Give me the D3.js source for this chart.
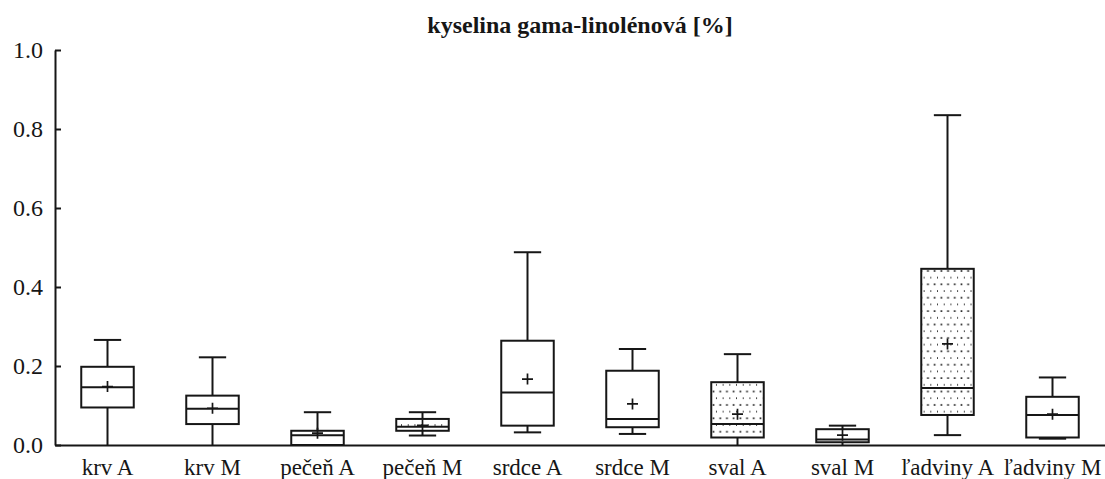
<!DOCTYPE html>
<html>
<head>
<meta charset="utf-8">
<script src="https://cdn.jsdelivr.net/npm/d3@7"></script>
<style>
	body { margin: 0; background: #fff; }
	svg { display: block; font-family: "Liberation Serif", "Times New Roman", serif; }
</style>
</head>
<body>
<div id="chart"></div>
<script>
// Datos: cuartiles, bigotes y media por tejido
var categorias = ["krv A", "krv M", "pečeň A", "pečeň M", "srdce A", "srdce M", "sval A", "sval M", "ľadviny A", "ľadviny M"];
var minimos  = [0.000, 0.000, 0.000, 0.024, 0.032, 0.028, 0.000, 0.000, 0.025, 0.016];
var q1       = [0.095, 0.053, 0.000, 0.036, 0.049, 0.045, 0.019, 0.007, 0.076, 0.019];
var medianas = [0.146, 0.092, 0.025, 0.046, 0.133, 0.066, 0.053, 0.014, 0.144, 0.076];
var q3       = [0.198, 0.125, 0.036, 0.066, 0.264, 0.188, 0.159, 0.040, 0.446, 0.122];
var maximos  = [0.266, 0.222, 0.083, 0.083, 0.488, 0.243, 0.230, 0.049, 0.835, 0.171];
var medias   = [0.148, 0.093, 0.030, 0.050, 0.167, 0.104, 0.078, 0.025, 0.256, 0.078];
var punteados = ["pečeň M", "sval A", "ľadviny A"];
var yTicks = [0, 0.2, 0.4, 0.6, 0.8, 1.0];
var titulo = "kyselina gama-linolénová [%]";

var W = 1105, H = 479;
var mLeft = 55, mRight = 1105, mTop = 50, mBottom = 445;
var ink = "#161616";

var svg = d3.select("#chart").append("svg")
	.attr("width", W)
	.attr("height", H);

// patrón de puntos para las cajas punteadas
var defs = svg.append("defs");
var pat = defs.append("pattern")
	.attr("id", "puntos")
	.attr("patternUnits", "userSpaceOnUse")
	.attr("width", 6.7)
	.attr("height", 13.4);
pat.append("rect").attr("x", 2.5).attr("y", 2.1).attr("width", 1.7).attr("height", 1.7).attr("fill", "#222");
pat.append("rect").attr("x", 5.8).attr("y", 8.8).attr("width", 1.7).attr("height", 1.7).attr("fill", "#222");

var x = d3.scaleBand()
	.domain(categorias)
	.range([mLeft, mRight]);

var y = d3.scaleLinear()
	.domain([0, 1])
	.range([mBottom, mTop]);

var datos = categorias.map(function(c, i) {
	return { cat: c, min: minimos[i], q1: q1[i], med: medianas[i], q3: q3[i], max: maximos[i], mean: medias[i] };
});

// Título
svg.append("text")
	.attr("x", (mLeft + mRight) / 2)
	.attr("y", 33)
	.attr("text-anchor", "middle")
	.attr("font-weight", "bold")
	.attr("font-size", 24)
	.attr("fill", ink)
	.text(titulo);

// Eje Y
var gy = svg.append("g")
	.attr("transform", "translate(" + mLeft + ",0)")
	.call(d3.axisLeft(y).tickValues(yTicks).tickFormat(d3.format(".1f")).tickSizeInner(-6).tickSizeOuter(0).tickPadding(12))
	.attr("font-family", "Liberation Serif, serif");
gy.select(".domain").attr("stroke", ink).attr("stroke-width", 2);
gy.selectAll(".tick line").attr("stroke", ink).attr("stroke-width", 2);
gy.selectAll(".tick text")
	.attr("font-size", 24)
	.attr("fill", ink);

// Cajas
var bw = x.bandwidth() * 0.5;
var cw = x.bandwidth() * 0.26;
var g = svg.selectAll("g.box")
	.data(datos)
	.enter()
	.append("g")
	.attr("class", "box")
	.attr("stroke", ink)
	.attr("stroke-width", 2)
	.attr("fill", "none");

function cx(d) { return x(d.cat) + x.bandwidth() / 2; }

// bigote superior
g.append("line")
	.attr("x1", cx).attr("x2", cx)
	.attr("y1", function(d) { return y(d.max); })
	.attr("y2", function(d) { return y(d.q3); });
g.append("line")
	.attr("x1", function(d) { return cx(d) - cw / 2; })
	.attr("x2", function(d) { return cx(d) + cw / 2; })
	.attr("y1", function(d) { return y(d.max); })
	.attr("y2", function(d) { return y(d.max); });
// bigote inferior
g.append("line")
	.attr("x1", cx).attr("x2", cx)
	.attr("y1", function(d) { return y(d.q1); })
	.attr("y2", function(d) { return y(d.min); });
g.filter(function(d) { return d.min > 0; }).append("line")
	.attr("x1", function(d) { return cx(d) - cw / 2; })
	.attr("x2", function(d) { return cx(d) + cw / 2; })
	.attr("y1", function(d) { return y(d.min); })
	.attr("y2", function(d) { return y(d.min); });
// caja
g.append("rect")
	.attr("x", function(d) { return cx(d) - bw / 2; })
	.attr("y", function(d) { return y(d.q3); })
	.attr("width", bw)
	.attr("height", function(d) { return y(d.q1) - y(d.q3); })
	.attr("fill", function(d) { return punteados.indexOf(d.cat) >= 0 ? "url(#puntos)" : "#fff"; });
// mediana
g.append("line")
	.attr("x1", function(d) { return cx(d) - bw / 2; })
	.attr("x2", function(d) { return cx(d) + bw / 2; })
	.attr("y1", function(d) { return y(d.med); })
	.attr("y2", function(d) { return y(d.med); });
// media (+)
g.append("path")
	.attr("d", function(d) {
		var px = cx(d), py = y(d.mean), s = 5.5;
		return "M" + (px - s) + "," + py + "H" + (px + s) + "M" + px + "," + (py - s) + "V" + (py + s);
	})
	.attr("stroke-width", 1.7);

// Eje X (encima de las cajas)
var gx = svg.append("g")
	.attr("transform", "translate(0," + mBottom + ")")
	.call(d3.axisBottom(x).tickSize(0).tickSizeOuter(0).tickPadding(14))
	.attr("font-family", "Liberation Serif, serif");
gx.select(".domain").attr("stroke", ink).attr("stroke-width", 2);
gx.selectAll(".tick text")
	.attr("font-size", 23)
	.attr("fill", ink);
</script>
</body>
</html>
